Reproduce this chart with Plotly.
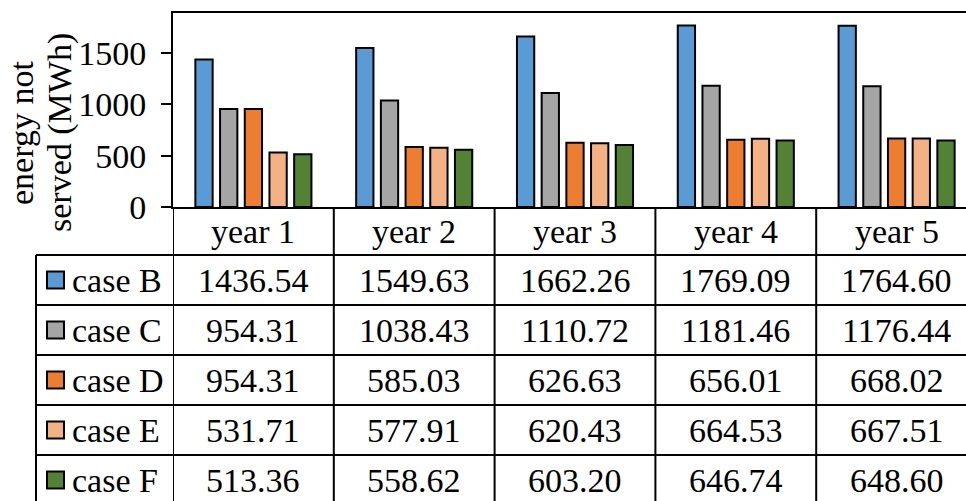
import plotly.graph_objects as go

# Energy not served per case and year (MWh)
years = ["year 1", "year 2", "year 3", "year 4", "year 5"]
case_names = ["case B", "case C", "case D", "case E", "case F"]
case_b = [1436.54, 1549.63, 1662.26, 1769.09, 1764.60]
case_c = [954.31, 1038.43, 1110.72, 1181.46, 1176.44]
case_d = [954.31, 585.03, 626.63, 656.01, 668.02]
case_e = [531.71, 577.91, 620.43, 664.53, 667.51]
case_f = [513.36, 558.62, 603.20, 646.74, 648.60]
y_ticks = [0, 500, 1000, 1500]
title_lines = ["energy not", "served (MWh)"]

series = [case_b, case_c, case_d, case_e, case_f]
colors = ["#5B9BD5", "#A5A5A5", "#ED7D31", "#F4B183", "#548235"]

W, H = 966, 501
ML, MR, MT, MB = 173, 0, 13, 294
PW, PH = W - ML - MR, H - MT - MB
CAT_PX = 160.8  # width of one category column in pixels

FONT = "Liberation Serif, Times New Roman, serif"
FS = 34
LW = 2


def px_to_paper_x(px):
    return (px - ML) / PW


def px_to_paper_y(py):
    return (H - MB - py) / PH


fig = go.Figure()
idx = list(range(len(years)))
for name, vals, col in zip(case_names, series, colors):
    fig.add_trace(go.Bar(
        x=idx, y=vals, name=name,
        marker=dict(color=col, line=dict(color="black", width=LW)),
        showlegend=False,
    ))

x_max = -0.5 + PW / CAT_PX

# data table below the plot: header row then one row per case
header_top = 207
row_tops = [255, 305, 355, 405, 455]
row_h = 50
table_left = 36

shapes = []
# vertical column separators through the table
for k in range(len(years) + 1):
    shapes.append(dict(type="line", xref="x", yref="paper",
                       x0=k - 0.5, x1=k - 0.5,
                       y0=px_to_paper_y(header_top), y1=px_to_paper_y(H + 5),
                       line=dict(color="black", width=LW)))
# left border of the row-label column
shapes.append(dict(type="line", xref="paper", yref="paper",
                   x0=px_to_paper_x(table_left), x1=px_to_paper_x(table_left),
                   y0=px_to_paper_y(row_tops[0]), y1=px_to_paper_y(H + 5),
                   line=dict(color="black", width=LW)))
# horizontal row lines
for rt in row_tops:
    shapes.append(dict(type="line", xref="paper", yref="paper",
                       x0=px_to_paper_x(table_left), x1=1.02,
                       y0=px_to_paper_y(rt), y1=px_to_paper_y(rt),
                       line=dict(color="black", width=LW)))
# legend keys
for rt, col in zip(row_tops, colors):
    cy = rt + row_h / 2
    shapes.append(dict(type="rect", xref="paper", yref="paper",
                       x0=px_to_paper_x(47), x1=px_to_paper_x(64),
                       y0=px_to_paper_y(cy - 8.5), y1=px_to_paper_y(cy + 8.5),
                       fillcolor=col, line=dict(color="black", width=LW)))

annotations = []
for k, yr in enumerate(years):
    annotations.append(dict(text=yr, xref="x", yref="paper", x=k,
                            y=px_to_paper_y((header_top + row_tops[0]) / 2),
                            showarrow=False, xanchor="center", yanchor="middle",
                            font=dict(family=FONT, size=FS, color="black")))
for rt, name, vals in zip(row_tops, case_names, series):
    cy = px_to_paper_y(rt + row_h / 2)
    annotations.append(dict(text=name, xref="paper", yref="paper",
                            x=px_to_paper_x(70), y=cy, showarrow=False,
                            xanchor="left", yanchor="middle",
                            font=dict(family=FONT, size=FS, color="black")))
    for k, v in enumerate(vals):
        annotations.append(dict(text=f"{v:.2f}", xref="x", yref="paper",
                                x=k, y=cy, showarrow=False,
                                xanchor="center", yanchor="middle",
                                font=dict(family=FONT, size=FS, color="black")))

# rotated axis title, one annotation per line
for line_text, cx in zip(title_lines, [21, 60]):
    annotations.append(dict(text=line_text, xref="paper", yref="paper",
                            x=px_to_paper_x(cx), y=px_to_paper_y(133),
                            textangle=-90, showarrow=False,
                            xanchor="center", yanchor="middle",
                            font=dict(family=FONT, size=FS, color="black")))

fig.update_layout(
    width=W, height=H,
    margin=dict(l=ML, r=MR, t=MT, b=MB, pad=0),
    paper_bgcolor="white", plot_bgcolor="white",
    barmode="group", bargap=0.232, bargroupgap=0.3,
    xaxis=dict(range=[-0.5, x_max], showticklabels=False, ticks="",
               showgrid=False, zeroline=False, showline=True, mirror=True,
               linecolor="black", linewidth=LW, fixedrange=True),
    yaxis=dict(range=[0, 1890], tickvals=y_ticks, ticks="outside", ticklen=10,
               tickwidth=LW, tickcolor="black", showgrid=False, zeroline=False,
               showline=True, linecolor="black", linewidth=LW,
               ticklabelstandoff=8,
               tickfont=dict(family=FONT, size=FS, color="black")),
    shapes=shapes,
    annotations=annotations,
    font=dict(family=FONT, size=FS, color="black"),
)

fig.write_html("out.html")
